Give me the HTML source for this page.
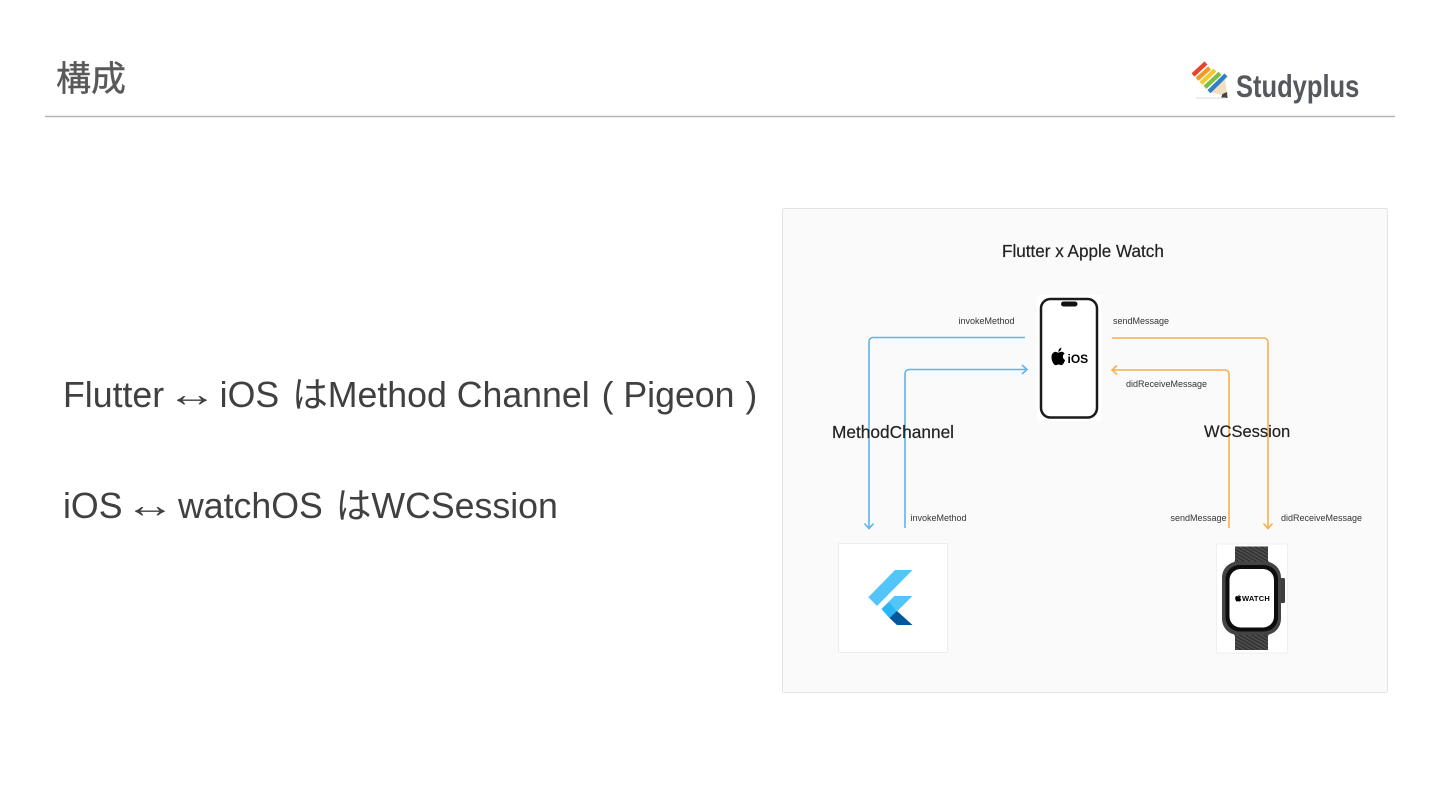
<!DOCTYPE html>
<html lang="ja">
<head>
<meta charset="utf-8">
<style>
html,body{margin:0;padding:0;background:#fff;}
#p{position:relative;width:1440px;height:810px;overflow:hidden;background:#fff;}
svg{position:absolute;left:0;top:0;}
.t{position:absolute;white-space:nowrap;font-family:"Liberation Sans","Noto Sans CJK JP",sans-serif;}
.a{display:inline-block;position:relative;top:-1px;transform:scaleX(1.42);transform-origin:50% 50%;}
.h{margin-left:3px;}
.s{font-size:9px;line-height:13px;color:#333;}
.b{font-size:35.7px;line-height:44px;color:#404040;}
.m{-webkit-text-stroke:.2px #222;}
</style>
</head>
<body>
<div id="p">
<div class="t" style="left:56px;top:58px;font-size:35px;line-height:44px;color:#595959;-webkit-text-stroke:.4px #595959;">構成</div>
<div class="t b" style="left:63px;top:373px;">Flutter <span class="a">↔</span> iOS <span class="h">は</span>Method Channel <span style="margin-left:2px;">( Pigeon <span style="margin-left:1px;">)</span></span></div>
<div class="t b" style="left:63px;top:484px;">iOS <span class="a">↔</span> watchOS <span class="h">は</span>WCSession</div>
<svg width="1440" height="810" viewBox="0 0 1440 810">
  <defs>
    <pattern id="w" width="3" height="3" patternUnits="userSpaceOnUse" patternTransform="rotate(30)">
      <rect width="3" height="3" fill="#333"/>
      <rect width="3" height="1.200" fill="#555"/>
    </pattern>
  </defs>
  <line x1="45" y1="116.500" x2="1395" y2="116.500" stroke="#b4b4b4" stroke-width="1.600"/>
  <!-- logo -->
  <polygon points="1211,92 1225,78 1227.500,97" fill="#f2dfc0"/>
  <polygon points="1222.500,94 1227,92 1227.500,98 1221,98" fill="#444"/>
  <g stroke-width="4.300" stroke-linecap="butt">
    <line x1="1193" y1="75" x2="1206" y2="63" stroke="#e8432f"/>
    <line x1="1197" y1="79.300" x2="1209.500" y2="68" stroke="#f39a26"/>
    <line x1="1201" y1="83.300" x2="1215" y2="70" stroke="#f5c92e"/>
    <line x1="1205" y1="87.300" x2="1220" y2="73.300" stroke="#7cc043"/>
    <line x1="1209" y1="91.700" x2="1226" y2="75" stroke="#2f7fc4"/>
  </g>
  <rect x="1196" y="97.500" width="30" height="1.200" fill="#e2e2e2"/>

  <!-- diagram panel -->
  <rect x="782.500" y="208.500" width="605" height="484" rx="2" fill="#fafafa" stroke="#e3e3e3"/>

  <!-- blue connectors -->
  <g fill="none" stroke="#5db5ee" stroke-width="1.600">
    <path d="M1025 337.500H873a4 4 0 0 0-4 4V528"/>
    <path d="M864.500 523.500L869 528.500L873.500 523.500"/>
    <path d="M905 528V373.500a4 4 0 0 1 4-4H1027"/>
    <path d="M1022 365L1027 369.500L1022 374"/>
  </g>
  <!-- orange connectors -->
  <g fill="none" stroke="#f7b04a" stroke-width="1.600">
    <path d="M1112 338H1264a4 4 0 0 1 4 4V528"/>
    <path d="M1263.500 523.500L1268 528.500L1272.500 523.500"/>
    <path d="M1229 528V374a4 4 0 0 0-4-4H1112"/>
    <path d="M1117 365.500L1112 370L1117 374.500"/>
  </g>

  <!-- phone card -->
  <rect x="1037" y="295" width="64" height="126" fill="#fff"/>
  <rect x="1041" y="299" width="56" height="118.500" rx="9.500" fill="#fff" stroke="#1a1a1a" stroke-width="2.500"/>
  <rect x="1061" y="301.500" width="16.500" height="5" rx="2.500" fill="#111"/>
  <g transform="translate(-4 -26.500) scale(1 1.080)">
    <path d="M1059 350.200c1.300 0 2.200.8 3.300.8 1 0 1.800-.8 3.300-.8 1.100 0 2.300.6 3 1.700-2.600 1.500-2.100 5 .5 6-.7 2-2.100 4.800-3.700 4.800-1.100 0-1.500-.7-2.800-.7-1.400 0-1.800.7-2.900.7-2 0-4.200-4.100-4.200-7.400 0-3.100 1.800-5.100 4.500-5.100z" fill="#000"/>
    <path d="M1062.300 350.200c-.1-1.800 1.300-3.400 3-3.700.2 1.900-1.300 3.500-3 3.700z" fill="#000"/>
  </g>

  <!-- flutter card -->
  <rect x="838.500" y="543.500" width="109" height="109" rx="1" fill="#fff" stroke="#ececec"/>
  <polygon points="895,570 912.500,570 877,606 868.300,597.300" fill="#54c5f8"/>
  <polygon points="894.300,596 912.500,596 897,611.500 889.500,618 881.500,609" fill="#54c5f8"/>
  <polygon points="881.500,609 889,602 897,611.500 889.500,618" fill="#29b6f6"/>
  <polygon points="889.500,618 897,611 912.500,625 897,625" fill="#01579b"/>

  <!-- watch card -->
  <rect x="1216.500" y="544" width="71" height="109" rx="1" fill="#fff" stroke="#efefef"/>
  <path d="M1235 546.500h33v14l4 6h-41l4-6z" fill="url(#w)"/>
  <path d="M1231 630h41l-4 6v14h-33v-14z" fill="url(#w)"/>
  <rect x="1280" y="578" width="5" height="25" rx="1.500" fill="#3e3e3e"/>
  <rect x="1222" y="561.500" width="59" height="73.500" rx="16" fill="#444"/>
  <rect x="1225.500" y="565" width="52.500" height="66.500" rx="14" fill="#0d0d0d"/>
  <rect x="1229.500" y="569" width="44.500" height="58.500" rx="11" fill="#fff"/>
  <path d="M1236.700 596c.6 0 1 .4 1.500.4s.9-.4 1.600-.4c.5 0 1 .3 1.300.7-1.100.7-.9 2.300.2 2.700-.3.900-.9 2.100-1.600 2.100-.5 0-.7-.3-1.300-.3s-.8.3-1.300.3c-.9 0-1.900-1.800-1.900-3.300 0-1.400.7-2.200 1.500-2.200z" fill="#000"/>
  <path d="M1238.200 596.300c0-.8.600-1.500 1.400-1.700.1.900-.6 1.600-1.400 1.700z" fill="#000"/>
</svg>

<div class="t" style="left:1236px;top:66px;font-size:31.500px;line-height:40px;font-weight:bold;color:#55585c;transform:scaleX(.81);transform-origin:0 0;">Studyplus</div>

<div class="t m" style="left:1002px;top:242px;font-size:17.100px;line-height:20px;color:#222;">Flutter x Apple Watch</div>
<div class="t m" style="left:832px;top:422px;font-size:17.300px;line-height:20px;color:#222;">MethodChannel</div>
<div class="t m" style="left:1204px;top:422px;font-size:16.500px;line-height:20px;color:#222;">WCSession</div>
<div class="t s" style="left:958.500px;top:314.500px;">invokeMethod</div>
<div class="t s" style="left:1113px;top:314.500px;">sendMessage</div>
<div class="t s" style="left:1126px;top:378px;">didReceiveMessage</div>
<div class="t s" style="left:910.500px;top:511.500px;">invokeMethod</div>
<div class="t s" style="left:1170.500px;top:511.500px;">sendMessage</div>
<div class="t s" style="left:1281px;top:511.500px;">didReceiveMessage</div>
<div class="t" style="left:1067.500px;top:351px;font-size:12px;line-height:16px;font-weight:bold;color:#000;">iOS</div>
<div class="t" style="left:1242px;top:594px;font-size:7.500px;line-height:10px;font-weight:bold;color:#000;letter-spacing:.2px;">WATCH</div>
</div>
</body>
</html>
